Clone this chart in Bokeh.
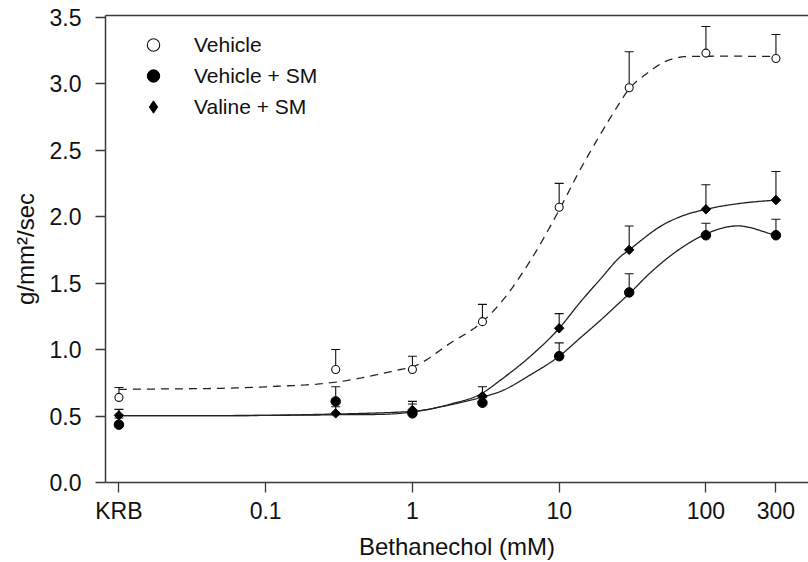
import numpy as np
from bokeh.plotting import figure
from bokeh.models import (ColumnDataSource, Range1d, FixedTicker, PrintfTickFormatter,
                          LogAxis, Whisker, TeeHead, Legend, LegendItem)
from bokeh.embed import file_html
from bokeh.resources import INLINE

# ---------------- data ----------------
conc = [0.01, 0.3, 1, 3, 10, 30, 100, 300]          # 0.01 position = "KRB"

vehicle = [0.64, 0.85, 0.85, 1.21, 2.07, 2.97, 3.23, 3.19]
vehicle_sem = [0.075, 0.15, 0.10, 0.13, 0.18, 0.27, 0.20, 0.18]

vehicle_sm = [0.435, 0.61, 0.52, 0.60, 0.95, 1.43, 1.86, 1.86]
vehicle_sm_sem = [0.05, 0.11, 0.07, 0.04, 0.10, 0.14, 0.09, 0.12]

valine_sm = [0.505, 0.52, 0.545, 0.65, 1.16, 1.75, 2.055, 2.125]
valine_sm_sem = [0.045, 0.05, 0.065, 0.07, 0.11, 0.18, 0.185, 0.215]

# fitted curves
vehicle_fit_x = [0.01, 0.1, 0.3, 0.83, 1, 1.82, 3, 3.98, 6.37, 10, 14, 18.2, 23.4, 30, 39.9, 51.3, 67.1, 91.9, 300]
vehicle_fit_y = [0.70, 0.72, 0.755, 0.85, 0.87, 1.05, 1.21, 1.35, 1.67, 2.05, 2.36, 2.58, 2.78, 2.96, 3.08, 3.16, 3.20, 3.205, 3.205]

valine_fit_x = [0.01, 0.1, 0.3, 0.83, 1, 1.82, 3, 3.98, 6.37, 10, 14, 19.1, 26.2, 30, 51.3, 67.1, 100, 172, 300]
valine_fit_y = [0.503, 0.505, 0.515, 0.53, 0.535, 0.59, 0.673, 0.77, 0.95, 1.16, 1.36, 1.53, 1.70, 1.75, 1.94, 2.00, 2.055, 2.10, 2.125]

vehsm_fit_x = [0.01, 0.1, 0.3, 1, 1.82, 3, 3.98, 6.37, 10, 14, 19.1, 26.2, 30, 42, 67.1, 91.9, 159, 300]
vehsm_fit_y = [0.503, 0.505, 0.51, 0.53, 0.585, 0.643, 0.685, 0.81, 0.95, 1.09, 1.22, 1.36, 1.42, 1.58, 1.76, 1.85, 1.93, 1.86]

x_ticks = [0.01, 0.1, 1, 10, 100, 300]
x_tick_labels = ["KRB", "0.1", "1", "10", "100", "300"]
y_ticks = [0, 0.5, 1.0, 1.5, 2.0, 2.5, 3.0, 3.5]

series_names = ["Vehicle", "Vehicle + SM", "Valine + SM"]


def smooth(xk, yk, n=30):
    u = np.log10(np.asarray(xk, dtype=float))
    y = np.asarray(yk, dtype=float)
    h = np.diff(u)
    d = np.diff(y) / h
    m = np.empty_like(y)
    m[0] = d[0]
    m[-1] = d[-1]
    m[1:-1] = (h[1:] * d[:-1] + h[:-1] * d[1:]) / (h[:-1] + h[1:])
    us, ys = [], []
    t = np.linspace(0, 1, n, endpoint=False)
    h00 = 2 * t**3 - 3 * t**2 + 1
    h10 = t**3 - 2 * t**2 + t
    h01 = -2 * t**3 + 3 * t**2
    h11 = t**3 - t**2
    for i in range(len(h)):
        us.append(u[i] + t * h[i])
        ys.append(h00 * y[i] + h10 * h[i] * m[i] + h01 * y[i + 1] + h11 * h[i] * m[i + 1])
    us.append([u[-1]])
    ys.append([y[-1]])
    return 10 ** np.concatenate(us), np.concatenate(ys)


FONT = "Liberation Sans"
INK = "#111111"
AXIS = "#3a3a3a"

p = figure(width=808, height=562, x_axis_type="log",
           x_range=Range1d(0.0081, 500), y_range=Range1d(0, 3.513),
           output_backend="svg", toolbar_location=None,
           min_border_left=105, min_border_right=0, min_border_top=15, min_border_bottom=79)
p.outline_line_color = None
p.xgrid.grid_line_color = None
p.ygrid.grid_line_color = None
p.background_fill_color = "white"
p.border_fill_color = "white"

# curves
fx, fy = smooth(vehicle_fit_x, vehicle_fit_y)
p.line(fx, fy, line_color="#222222", line_width=1.3, line_dash="8 6")
fx, fy = smooth(valine_fit_x, valine_fit_y)
p.line(fx, fy, line_color="#222222", line_width=1.3)
fx, fy = smooth(vehsm_fit_x, vehsm_fit_y)
p.line(fx, fy, line_color="#222222", line_width=1.3)

# sources
def make_src(vals, sem):
    return ColumnDataSource(dict(x=conc, y=vals, top=[v + s for v, s in zip(vals, sem)]))

src_veh = make_src(vehicle, vehicle_sem)
src_vsm = make_src(vehicle_sm, vehicle_sm_sem)
src_val = make_src(valine_sm, valine_sm_sem)

for src in (src_veh, src_vsm, src_val):
    w = Whisker(base="x", lower="y", upper="top", source=src, dimension="height",
                line_color=INK, line_width=1.1, level="underlay",
                upper_head=TeeHead(size=9, line_color=INK, line_width=1.1), lower_head=None)
    p.add_layout(w)

r_veh = p.scatter("x", "y", source=src_veh, marker="circle", size=8,
                  fill_color="white", line_color=INK, line_width=1.1)
r_vsm = p.scatter("x", "y", source=src_vsm, marker="circle", size=9.5,
                  fill_color="black", line_color="black", line_width=1)
r_val = p.scatter("x", "y", source=src_val, marker="square", angle=np.pi / 4, size=6.7,
                  fill_color="black", line_color="black", line_width=1)
r_val_leg = p.scatter("x", "y", source=src_val, marker="diamond", size=10,
                      fill_color="black", line_color="black", visible=False)

legend = Legend(items=[LegendItem(label=series_names[0], renderers=[r_veh]),
                       LegendItem(label=series_names[1], renderers=[r_vsm]),
                       LegendItem(label=series_names[2], renderers=[r_val_leg])],
                location="top_left", margin=14, padding=0, spacing=0,
                glyph_height=31, glyph_width=68, label_standoff=7, label_height=31,
                label_text_font=FONT, label_text_font_size="21px", label_text_color=INK,
                border_line_color=None, background_fill_alpha=0)
p.add_layout(legend)

# axes
for ax in (p.xaxis[0], p.yaxis[0]):
    ax.axis_line_color = AXIS
    ax.axis_line_width = 1.5
    ax.major_tick_line_color = AXIS
    ax.major_tick_line_width = 1.3
    ax.major_tick_in = 0
    ax.major_tick_out = 10
    ax.minor_tick_line_color = None
    ax.major_label_text_font = FONT
    ax.major_label_text_color = INK
    ax.major_label_text_font_size = "23px"
    ax.axis_label_text_font = FONT
    ax.axis_label_text_font_size = "24px"
    ax.axis_label_text_font_style = "normal"
    ax.axis_label_text_color = INK

p.xaxis.ticker = FixedTicker(ticks=x_ticks)
p.xaxis.major_label_overrides = {t: l for t, l in zip(x_ticks, x_tick_labels)}
p.xaxis.major_label_standoff = 5
p.xaxis.axis_label = "Bethanechol (mM)"
p.xaxis.axis_label_standoff = 6

p.yaxis.ticker = FixedTicker(ticks=y_ticks)
p.yaxis.formatter = PrintfTickFormatter(format="%.1f")
p.yaxis.major_label_standoff = 14
p.yaxis.axis_label = "g/mm\u00b2/sec"
p.yaxis.axis_label_standoff = 8

top_ax = LogAxis(ticker=FixedTicker(ticks=[]), axis_line_color=AXIS, axis_line_width=1.5,
                 major_tick_line_color=None, minor_tick_line_color=None,
                 major_tick_out=0, major_tick_in=0, major_label_standoff=0)
p.add_layout(top_ax, "above")

open("out.html", "w").write(file_html(p, INLINE))
